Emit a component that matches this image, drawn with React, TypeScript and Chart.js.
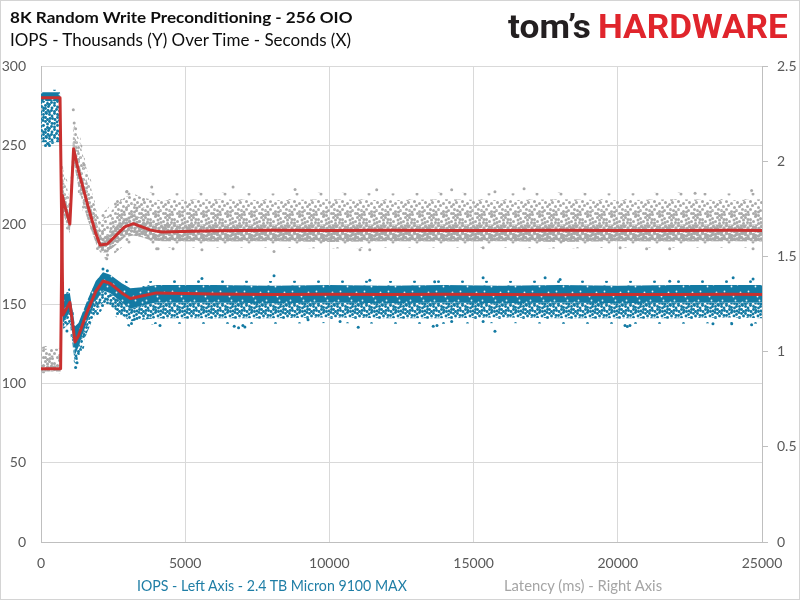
import React, { useEffect, useLayoutEffect, useRef } from 'react';
import { Chart, registerables } from 'chart.js';

Chart.register(...registerables);

// ---------- data ----------
const xTicks = [0, 5000, 10000, 15000, 20000, 25000];
const xTickLabels = ['0', '5000', '10000', '15000', '20000', '25000'];
const leftTicks = [0, 50, 100, 150, 200, 250, 300];
const leftTickLabels = ['0', '50', '100', '150', '200', '250', '300'];
const rightTicks = [0, 0.5, 1, 1.5, 2, 2.5];
const rightTickLabels = ['0', '0.5', '1', '1.5', '2', '2.5'];

// IOPS (thousands, left axis)
const iopsTimes = [0, 660, 760, 1000, 1180, 1300, 1600, 1900, 2150, 2400, 2800, 3100, 3500, 4000, 6000, 8000, 10000, 12000, 14000, 16000, 18000, 20000, 22000, 24000, 25000];
const iopsMean = [280, 280, 143, 151, 126, 130, 145, 158, 164.5, 163, 157, 153.5, 155, 157, 156.3, 156, 156.2, 156, 156.2, 156, 155.8, 156, 156, 156.2, 156];
const iopsFringeTop = [285, 285, 159, 160, 139, 141, 155, 167, 173, 171.5, 166, 163, 163.5, 165, 165, 164.5, 165, 164.5, 165, 164.5, 165, 164.5, 165, 165, 165];
const iopsCloudTop = [283.5, 283.5, 156, 157, 136, 138, 152, 164.5, 170, 168.5, 163, 160, 160.5, 162, 162, 161.5, 162, 161.5, 162, 161.5, 162, 161.5, 162, 162, 162];
const iopsDenseBottom = [278, 278, 138, 145, 118, 123, 139, 152, 158.5, 157, 151, 147, 149, 151, 151, 150.5, 151, 150.5, 151, 150.5, 151, 150.5, 151, 151, 151];
const iopsCloudBottom = [252, 252, 134, 138, 112, 117, 132, 145, 151, 149, 143, 139, 140, 141, 141, 141, 141.5, 141, 141, 141.5, 141, 141, 141, 141.5, 141];
const iopsFringeBottom = [249, 249, 130, 134, 108, 113, 128, 141, 147, 145, 139, 135, 136, 137.5, 137.5, 137.5, 138, 137.5, 137.5, 138, 137.5, 137.5, 137.5, 138, 137.5];
const iopsOutlierTimes = [253, 900, 1200, 1250, 2150, 2300, 4126, 5580, 6700, 6850, 7000, 7070, 8080, 9260, 10370, 11000, 11400, 13600, 13650, 13730, 14240, 15330, 15330, 15740, 17480, 18000, 20250, 20330, 20420, 21800, 23300, 23950, 24000, 24640, 24690];
const iopsOutlierValues = [251, 133, 110, 113, 172, 171, 136.5, 166, 136, 135, 136.5, 135.5, 167.8, 140, 139, 135.4, 165, 136, 164, 136.5, 139, 166.6, 139, 132.8, 166.6, 165.5, 136.4, 135.8, 136.4, 164.4, 137.5, 137.5, 166.6, 137, 165.8];

// Latency (ms, right axis)
const latTimes = [0, 680, 740, 780, 1000, 1130, 1300, 1600, 1900, 2050, 2300, 2600, 2900, 3200, 3500, 3800, 4200, 6000, 8000, 10000, 12000, 14000, 16000, 18000, 20000, 22000, 24000, 25000];
const latMean = [0.91, 0.91, 1.82, 1.79, 1.67, 2.065, 1.95, 1.78, 1.62, 1.56, 1.565, 1.61, 1.655, 1.672, 1.655, 1.638, 1.628, 1.635, 1.637, 1.636, 1.637, 1.636, 1.636, 1.637, 1.636, 1.636, 1.637, 1.636];
const latFringeBottom = [0.885, 0.885, 1.7, 1.68, 1.59, 1.96, 1.82, 1.66, 1.53, 1.49, 1.49, 1.52, 1.56, 1.57, 1.56, 1.55, 1.545, 1.545, 1.545, 1.542, 1.545, 1.545, 1.545, 1.542, 1.545, 1.545, 1.545, 1.545];
const latCloudBottom = [0.895, 0.895, 1.74, 1.72, 1.62, 2.0, 1.86, 1.7, 1.57, 1.52, 1.52, 1.56, 1.6, 1.61, 1.6, 1.585, 1.58, 1.578, 1.58, 1.576, 1.58, 1.578, 1.58, 1.576, 1.58, 1.578, 1.58, 1.578];
const latDenseTop = [0.93, 0.93, 1.88, 1.85, 1.71, 2.11, 2.0, 1.83, 1.67, 1.6, 1.61, 1.66, 1.7, 1.72, 1.7, 1.685, 1.67, 1.668, 1.665, 1.668, 1.665, 1.668, 1.665, 1.668, 1.665, 1.668, 1.665, 1.668];
const latMidTop = [0.98, 0.98, 1.94, 1.9, 1.75, 2.16, 2.06, 1.89, 1.71, 1.64, 1.66, 1.72, 1.76, 1.78, 1.76, 1.745, 1.74, 1.745, 1.74, 1.745, 1.74, 1.745, 1.74, 1.745, 1.74, 1.745, 1.74, 1.745];
const latCloudTop = [1.015, 1.015, 2.0, 1.95, 1.79, 2.2, 2.12, 1.95, 1.75, 1.68, 1.71, 1.77, 1.81, 1.83, 1.81, 1.8, 1.795, 1.8, 1.795, 1.8, 1.795, 1.8, 1.795, 1.8, 1.795, 1.8, 1.795, 1.8];
const latFringeTop = [1.03, 1.03, 2.04, 1.99, 1.83, 2.24, 2.16, 1.99, 1.79, 1.72, 1.75, 1.81, 1.85, 1.86, 1.845, 1.835, 1.83, 1.835, 1.83, 1.835, 1.83, 1.835, 1.83, 1.835, 1.83, 1.835, 1.83, 1.835];
const latOutlierTimes = [1120, 1150, 1200, 1500, 2280, 2970, 3840, 4010, 4060, 4580, 5580, 6660, 8080, 8810, 11060, 11400, 11640, 14240, 15330, 15740, 16750, 20080, 21000, 21800, 22680, 24640, 24690];
const latOutlierValues = [2.27, 2.2, 2.17, 1.98, 1.488, 1.84, 1.865, 1.54, 1.54, 1.54, 1.535, 1.865, 1.526, 1.851, 1.535, 1.535, 1.85, 1.85, 1.546, 1.84, 1.855, 1.546, 1.54, 1.54, 1.832, 1.846, 1.54];

// ---------- styles ----------
const BLUE = '#137aa3';
const GRAY = '#a9a9a9';
const RED = '#c9302f';
const TICK = '#595959';
const GRID = '#d9d9d9';
const AXIS = '#bfbfbf';

// texture dot offsets inside a 24px tile (purely a fill style for the dense clouds)
const TILE = 24;
const TEXTURE_A: [number, number][] = [
  [1, 1], [6, 3], [11, 0], [16, 2], [21, 1],
  [3, 6], [9, 5], [14, 7], [19, 5], [23, 7],
  [0, 10], [6, 9], [11, 11], [17, 10], [21, 12],
  [3, 14], [8, 13], [14, 15], [19, 14],
  [1, 18], [6, 17], [11, 19], [16, 18], [22, 17],
  [4, 22], [9, 21], [14, 23], [19, 21], [23, 23],
];
const TEXTURE_B: [number, number][] = [
  [3.5, 3], [8.5, 1.5], [13.5, 3.5], [18.5, 0], [23, 3.5],
  [1, 8], [6, 6.5], [12, 8], [16.5, 6], [21, 9],
  [3.5, 11.5], [9, 10.5], [14.5, 12], [19, 11.5], [23.5, 14],
  [1, 15.5], [6, 15], [11, 14.5], [16.5, 15.5], [21.5, 16],
  [3.5, 19.5], [9, 18], [14, 19.5], [19, 18],
  [1.5, 22], [6.5, 23], [11.5, 22], [16.5, 22.5], [21, 21],
];
const SPECKS: [number, number][] = [[4, 3], [13, 8], [20, 4], [8, 16], [17, 20], [2, 12], [22, 14], [11, 22], [15, 12]];

function dotTile(draw: (g: CanvasRenderingContext2D) => void): CanvasPattern | string {
  const c = document.createElement('canvas');
  c.width = TILE;
  c.height = TILE;
  const g = c.getContext('2d');
  if (!g) return '#999';
  draw(g);
  return g.createPattern(c, 'repeat') || '#999';
}

function drawDots(g: CanvasRenderingContext2D, list: [number, number][], color: string, r: number) {
  g.fillStyle = color;
  for (const [x, y] of list) {
    for (const dx of [-TILE, 0, TILE]) {
      for (const dy of [-TILE, 0, TILE]) {
        g.beginPath();
        g.arc(x + 0.5 + dx, y + 0.5 + dy, r, 0, Math.PI * 2);
        g.fill();
      }
    }
  }
}

const solidPattern = (color: string) =>
  dotTile((g) => {
    g.fillStyle = color;
    g.fillRect(0, 0, TILE, TILE);
    drawDots(g, SPECKS, 'rgba(255,255,255,0.9)', 0.9);
  });
const dotPattern = (color: string, list: [number, number][], r: number) => dotTile((g) => drawDots(g, list, color, r));

const pts = (xs: number[], ys: number[]) => xs.map((x, i) => ({ x, y: ys[i] }));

type FitProps = {
  text: string;
  left: number;
  top: number;
  width: number;
  font: string;
  color: string;
};

function FitText({ text, left, top, width, font, color }: FitProps) {
  const ref = useRef<HTMLSpanElement>(null);
  useLayoutEffect(() => {
    const el = ref.current;
    if (!el) return;
    const w = el.offsetWidth;
    if (w > 0) el.style.transform = `scaleX(${width / w})`;
  });
  return (
    <span
      ref={ref}
      style={{
        position: 'absolute',
        left,
        top,
        font,
        color,
        lineHeight: 1,
        whiteSpace: 'nowrap',
        transformOrigin: '0 0',
        display: 'inline-block',
      }}
    >
      {text}
    </span>
  );
}

export default function App() {
  const canvasRef = useRef<HTMLCanvasElement>(null);

  useEffect(() => {
    const canvas = canvasRef.current;
    if (!canvas) return;

    const both = [...TEXTURE_A, ...TEXTURE_B];
    const blueDense = solidPattern(BLUE);
    const blueMid = dotPattern(BLUE, both, 1.45);
    const blueFringe = dotPattern(BLUE, TEXTURE_A.filter((_, i) => i % 4 === 0), 1.5);
    const grayDense = dotPattern(GRAY, both, 1.75);
    const grayMid = dotPattern(GRAY, [...TEXTURE_A, ...TEXTURE_B.filter((_, i) => i % 2 === 0)], 1.5);
    const graySparse = dotPattern(GRAY, TEXTURE_A, 1.5);
    const grayFringe = dotPattern(GRAY, TEXTURE_B.filter((_, i) => i % 4 === 1), 1.5);
    const clear = 'rgba(0,0,0,0)';

    const edge = (data: { x: number; y: number }[], axis: string, fill: number | false, bg: any) => ({
      data,
      yAxisID: axis,
      borderColor: clear,
      borderWidth: 1,
      pointRadius: 0,
      tension: 0,
      fill,
      backgroundColor: bg,
      order: 10,
    });

    const meanLine = (data: { x: number; y: number }[], axis: string, order: number) => ({
      data,
      yAxisID: axis,
      borderColor: RED,
      borderWidth: 3,
      pointRadius: 0,
      tension: 0,
      fill: false,
      borderJoinStyle: 'round',
      order,
    });

    const dots = (data: { x: number; y: number }[], axis: string, color: string, order: number) => ({
      data,
      yAxisID: axis,
      showLine: false,
      pointRadius: 1.5,
      pointBorderWidth: 0,
      pointBackgroundColor: color,
      order,
    });

    const chart = new Chart(canvas, {
      type: 'line',
      data: {
        datasets: [
          meanLine(pts(iopsTimes, iopsMean), 'y', 0) as any, // 0
          meanLine(pts(latTimes, latMean), 'y1', 1) as any, // 1
          dots(pts(iopsOutlierTimes, iopsOutlierValues), 'y', BLUE, 2) as any, // 2
          dots(pts(latOutlierTimes, latOutlierValues), 'y1', GRAY, 3) as any, // 3
          edge(pts(iopsTimes, iopsFringeTop), 'y', false, clear) as any, // 4
          edge(pts(iopsTimes, iopsCloudTop), 'y', 4, blueFringe) as any, // 5
          edge(pts(iopsTimes, iopsDenseBottom), 'y', 5, blueDense) as any, // 6
          edge(pts(iopsTimes, iopsCloudBottom), 'y', 6, blueMid) as any, // 7
          edge(pts(iopsTimes, iopsFringeBottom), 'y', 7, blueFringe) as any, // 8
          edge(pts(latTimes, latFringeBottom), 'y1', false, clear) as any, // 9
          edge(pts(latTimes, latCloudBottom), 'y1', 9, grayFringe) as any, // 10
          edge(pts(latTimes, latDenseTop), 'y1', 10, grayDense) as any, // 11
          edge(pts(latTimes, latMidTop), 'y1', 11, grayMid) as any, // 12
          edge(pts(latTimes, latCloudTop), 'y1', 12, graySparse) as any, // 13
          edge(pts(latTimes, latFringeTop), 'y1', 13, grayFringe) as any, // 14
        ],
      },
      options: {
        responsive: false,
        animation: false,
        events: [],
        layout: { padding: { top: 66, left: 0, right: 0, bottom: 0 } },
        plugins: {
          legend: { display: false },
          tooltip: { enabled: false },
          title: { display: false },
        },
        scales: {
          x: {
            type: 'linear',
            min: 0,
            max: 25000,
            afterBuildTicks: (s: any) => {
              s.ticks = xTicks.map((v) => ({ value: v }));
            },
            afterFit: (s: any) => {
              s.height = 58;
            },
            ticks: {
              callback: (v: any) => xTickLabels[xTicks.indexOf(Number(v))] ?? '',
              color: TICK,
              font: { family: 'Lato', size: 14 },
              padding: 13,
              maxRotation: 0,
              autoSkip: false,
            },
            grid: { color: GRID, drawTicks: false },
            border: { color: AXIS },
          },
          y: {
            type: 'linear',
            position: 'left',
            min: 0,
            max: 300,
            afterBuildTicks: (s: any) => {
              s.ticks = leftTicks.map((v) => ({ value: v }));
            },
            afterFit: (s: any) => {
              s.width = 41;
            },
            ticks: {
              callback: (v: any) => leftTickLabels[leftTicks.indexOf(Number(v))] ?? '',
              color: TICK,
              font: { family: 'Lato', size: 14 },
              padding: 15,
            },
            grid: { color: GRID, drawTicks: false },
            border: { color: AXIS },
          },
          y1: {
            type: 'linear',
            position: 'right',
            min: 0,
            max: 2.5,
            afterBuildTicks: (s: any) => {
              s.ticks = rightTicks.map((v) => ({ value: v }));
            },
            afterFit: (s: any) => {
              s.width = 38;
            },
            ticks: {
              callback: (v: any) => rightTickLabels[rightTicks.indexOf(Number(v))] ?? '',
              color: TICK,
              font: { family: 'Lato', size: 14 },
              padding: 9,
            },
            grid: { drawOnChartArea: false, drawTicks: true, tickLength: 6, color: AXIS },
            border: { color: AXIS },
          },
        },
      } as any,
    });

    return () => {
      chart.destroy();
    };
  }, []);

  return (
    <div style={{ position: 'absolute', left: 0, top: 0, width: 800, height: 600, background: '#fff', overflow: 'hidden' }}>
      <canvas ref={canvasRef} width={800} height={600} style={{ position: 'absolute', left: 0, top: 0, width: 800, height: 600 }} />
      <FitText text="8K Random Write Preconditioning - 256 OIO" left={10} top={9} width={342} font="bold 16px Lato" color="#0d0d0d" />
      <FitText text="IOPS - Thousands (Y) Over Time - Seconds (X)" left={10} top={30.5} width={341} font="17px Lato" color="#0d0d0d" />
      <FitText text="tom’s" left={508} top={8.7} width={83} font="bold 34px Roboto" color="#231f20" />
      <FitText text="HARDWARE" left={598} top={8.7} width={190} font="bold 34px Roboto" color="#e0252c" />
      <FitText text="IOPS - Left Axis - 2.4 TB Micron 9100 MAX" left={137} top={578} width={270} font="15px Lato" color="#1f7ea6" />
      <FitText text="Latency (ms) - Right Axis" left={504} top={578} width={158} font="15px Lato" color="#a5a5a5" />
      <div style={{ position: 'absolute', left: 0, top: 0, width: 800, height: 600, boxSizing: 'border-box', border: '1px solid #d4d4d4', pointerEvents: 'none' }} />
    </div>
  );
}
